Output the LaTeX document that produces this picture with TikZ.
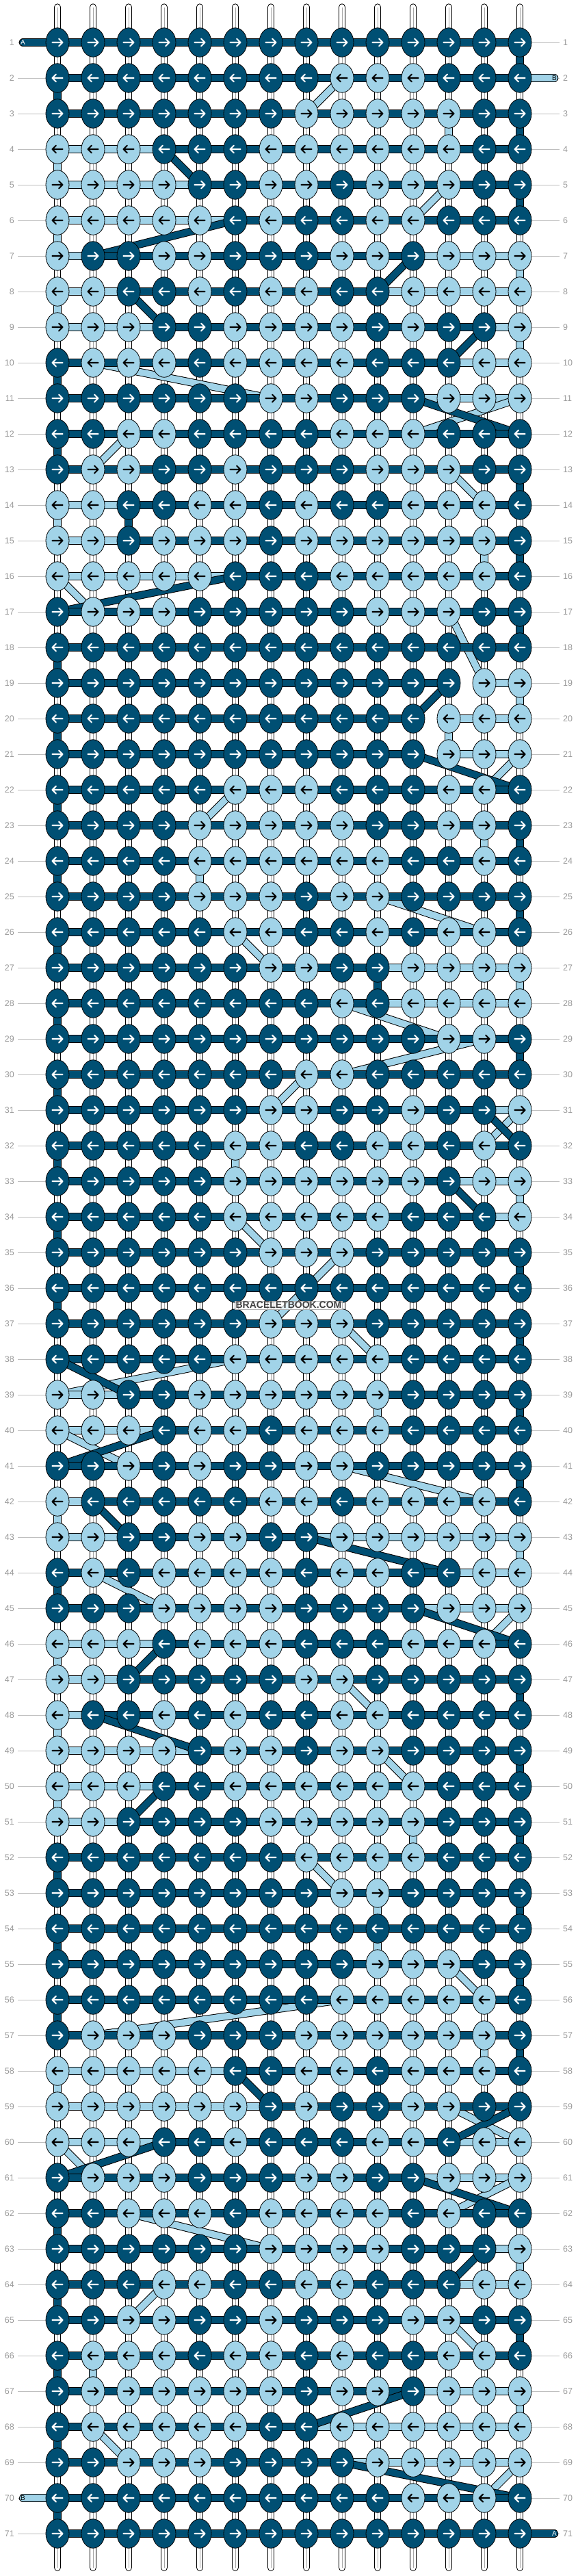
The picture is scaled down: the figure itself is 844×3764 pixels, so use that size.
\documentclass[tikz,border=0pt]{standalone}
\usepackage{fontspec}
\setmainfont{Liberation Sans}
\usepackage{tikz}
\usetikzlibrary{shapes.geometric}
\definecolor{bbdark}{RGB}{0,79,115}
\definecolor{bblight}{RGB}{161,211,232}
\definecolor{rowgray}{RGB}{153,153,153}
\definecolor{guidegray}{RGB}{190,190,190}

\pgfdeclarelayer{tubes}
\pgfdeclarelayer{threads}
\pgfsetlayers{tubes,threads,main}

% knot colours per row, 1 = dark (A), 0 = light (B)
\newcount\knotcnt
\def\setrow#1#2{\def\currow{#1}\global\knotcnt=0 \setknots#2\relax}
\def\setknots#1{\ifx\relax#1\else\global\advance\knotcnt by 1 \expandafter\xdef\csname kn-\currow-\the\knotcnt\endcsname{#1}\expandafter\setknots\fi}

\setrow{1}{11111111111111}
\setrow{2}{11111111000111}
\setrow{3}{11111110000011}
\setrow{4}{00011100000011}
\setrow{5}{00001100100011}
\setrow{6}{00000101100111}
\setrow{7}{01100111001000}
\setrow{8}{00110100110000}
\setrow{9}{00011000010110}
\setrow{10}{10001000011100}
\setrow{11}{11111100111000}
\setrow{12}{11001111000111}
\setrow{13}{10011011100011}
\setrow{14}{00110010110001}
\setrow{15}{00100010000001}
\setrow{16}{00000111000001}
\setrow{17}{10001111100011}
\setrow{18}{11111111111111}
\setrow{19}{11111111111100}
\setrow{20}{11111111111000}
\setrow{21}{11111111111000}
\setrow{22}{11111000111001}
\setrow{23}{11110000011001}
\setrow{24}{11110000001101}
\setrow{25}{11110001001111}
\setrow{26}{11111001101001}
\setrow{27}{11111100110000}
\setrow{28}{11111111010000}
\setrow{29}{11111111111001}
\setrow{30}{11111110011111}
\setrow{31}{11111100110110}
\setrow{32}{11111001100101}
\setrow{33}{11111000000100}
\setrow{34}{11111000001110}
\setrow{35}{11111100011111}
\setrow{36}{11111111111111}
\setrow{37}{11111100011111}
\setrow{38}{11111000001111}
\setrow{39}{00110000001111}
\setrow{40}{00010010001111}
\setrow{41}{11010110011111}
\setrow{42}{01111100100001}
\setrow{43}{00110011000000}
\setrow{44}{10100001001100}
\setrow{45}{11100001111000}
\setrow{46}{00010001110001}
\setrow{47}{00111110011111}
\setrow{48}{01101011001111}
\setrow{49}{00001001001111}
\setrow{50}{00011000000111}
\setrow{51}{00111100000111}
\setrow{52}{11111110000111}
\setrow{53}{11111111001111}
\setrow{54}{11111111111111}
\setrow{55}{11111111100011}
\setrow{56}{11111111000001}
\setrow{57}{10001110000001}
\setrow{58}{00000110010001}
\setrow{59}{00000010110011}
\setrow{60}{00011011100100}
\setrow{61}{10001110011000}
\setrow{62}{11000100001011}
\setrow{63}{11111100001110}
\setrow{64}{11100110011100}
\setrow{65}{11001101110011}
\setrow{66}{10001001011001}
\setrow{67}{10000001001000}
\setrow{68}{10000011000000}
\setrow{69}{11000111100000}
\setrow{70}{11111111110001}
\setrow{71}{11111111111111}

\newcommand{\drawthread}[3]{%
  \ifnum#1=1 \def\thfill{bbdark}\else\def\thfill{bblight}\fi
  \draw[threadline, draw=black] (#2.center) -- (#3.center);
  \draw[threadline, line width=9.5pt, draw=\thfill] (#2.center) -- (#3.center);%
}

\begin{document}
\begin{tikzpicture}[x=1pt, y=-1pt]
    \tikzstyle{knot} = [ellipse, draw=black, line width=0.8pt, minimum width=34pt, minimum height=42.5pt, inner sep=0pt]
    \tikzstyle{threadline} = [line width=11.5pt, line cap=round]
    \tikzstyle{arrowmark} = [line width=2.1pt, line cap=round, line join=round]
    \tikzstyle{guide} = [draw=guidegray, line width=1pt]
    \tikzstyle{rowlabel} = [text=rowgray, font=\fontsize{12.5}{13}\selectfont, inner sep=0pt]
    \tikzstyle{tabletter} = [font=\fontsize{10}{10}\selectfont, inner sep=0pt]
    \tikzstyle{watermark} = [font=\bfseries\fontsize{14}{14}\selectfont, text=black!75, fill=white, fill opacity=0.7, text opacity=1, draw=black!30, inner sep=1pt]

    \useasboundingbox (0,0) rectangle (844,3764);

    % knots with their arrows
    \foreach \rr in {1,...,71} {
        \ifodd\rr \def\dir{1}\else\def\dir{-1}\fi
        \foreach \cc in {1,...,14} {
            \edef\v{\csname kn-\rr-\cc\endcsname}
            \ifnum\v=1 \def\kfill{bbdark}\def\kpen{white}\else\def\kfill{bblight}\def\kpen{black}\fi
            \node [knot, fill=\kfill] (k-\rr-\cc) at ({84+(\cc-1)*52}, {62+(\rr-1)*52}) {};
            \draw [arrowmark, draw=\kpen, shift={(k-\rr-\cc.center)}, xscale=\dir] (-7.5,0) -- (7.5,0) (2,-5.5) -- (7.5,0) -- (2,5.5);
        }
    }

    % base strings, guide lines and row numbers
    \begin{pgfonlayer}{tubes}
    \foreach \cc in {1,...,14} {
        \coordinate (top-\cc) at ({84+(\cc-1)*52}, 10.5);
        \coordinate (bot-\cc) at ({84+(\cc-1)*52}, 3751.5);
        \draw [line width=10.5pt, line cap=round] (top-\cc) -- (bot-\cc);
        \draw [line width=8.5pt, line cap=round, white] (top-\cc) -- (bot-\cc);
        \draw [line width=0.6pt, black!35] (top-\cc) -- (bot-\cc);
    }
    \foreach \rr in {1,...,71} {
        \node [rowlabel, anchor=east] (lbl-l-\rr) at (21, {62+(\rr-1)*52}) {\rr};
        \node [rowlabel, anchor=west] (lbl-r-\rr) at (823, {62+(\rr-1)*52}) {\rr};
        \draw [guide] ([xshift=5pt]lbl-l-\rr.east) -- (k-\rr-1);
        \draw [guide] (k-\rr-14) -- ([xshift=-5pt]lbl-r-\rr.west);
    }
    \end{pgfonlayer}

    % the two working strings, light first, dark on top
    \begin{pgfonlayer}{threads}
    \foreach \col/\lett in {0/B, 1/A} {
        \gdef\thstarted{0}
        \foreach \rr in {1,...,71} {
            \foreach \j in {1,...,14} {
                \ifodd\rr \edef\cc{\j}\else\pgfmathtruncatemacro\cc{15-\j}\fi
                \edef\v{\csname kn-\rr-\cc\endcsname}
                \ifnum\v=\col\relax
                    \ifnum\thstarted=0
                        \ifodd\rr \def\tx{33.5}\else\def\tx{810.5}\fi
                        \coordinate (start-\lett) at (\tx, {62+(\rr-1)*52});
                        \xdef\lastknot{start-\lett}
                        \gdef\thstarted{1}
                    \fi
                    \drawthread{\col}{\lastknot}{k-\rr-\cc}
                    \xdef\lastknot{k-\rr-\cc}
                    \xdef\lastrow{\rr}
                \fi
            }
        }
        \ifodd\lastrow \def\tx{810.5}\else\def\tx{33.5}\fi
        \coordinate (end-\lett) at (\tx, {62+(\lastrow-1)*52});
        \drawthread{\col}{\lastknot}{end-\lett}
    }
    \end{pgfonlayer}

    \foreach \lett/\lcol in {A/white, B/black} {
        \node [tabletter, text=\lcol] (tag-start-\lett) at (start-\lett) {\lett};
        \node [tabletter, text=\lcol] (tag-end-\lett) at (end-\lett) {\lett};
    }

    \node [watermark] (mark) at (422,1907) {BRACELETBOOK.COM};
\end{tikzpicture}
\end{document}
